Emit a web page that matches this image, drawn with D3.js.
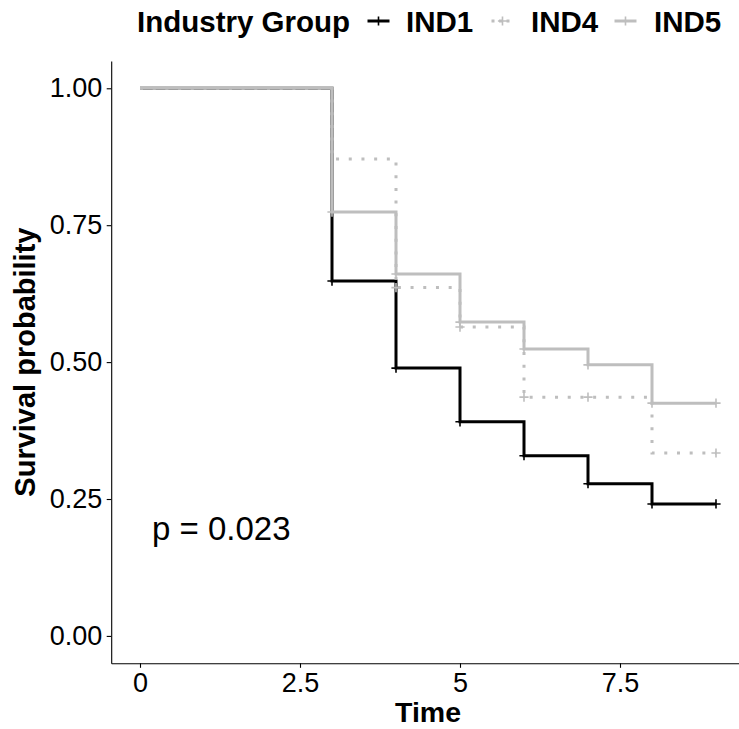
<!DOCTYPE html>
<html>
<head>
<meta charset="utf-8">
<script src="https://cdn.jsdelivr.net/npm/d3@7"></script>
<style>
  html, body { margin: 0; padding: 0; background: #fff; }
  svg { display: block; font-family: "Liberation Sans", Arial, Helvetica, sans-serif; }
</style>
</head>
<body>
<svg id="chart" width="739" height="729"></svg>
<script>
// Kaplan–Meier step estimates by industry group
const groups = ["IND1", "IND4", "IND5"];
const times = [0, 3, 4, 5, 6, 7, 8, 9];
const survIND1 = [1, 0.648, 0.489, 0.391, 0.329, 0.278, 0.241, 0.241];
const survIND4 = [1, 0.871, 0.636, 0.564, 0.436, 0.436, 0.334, 0.334];
const survIND5 = [1, 0.774, 0.661, 0.573, 0.524, 0.495, 0.425, 0.425];
// times at which censored observations occur
const censorIND1 = [3, 4, 5, 6, 7, 8, 9];
const censorIND4 = [4, 5, 6, 7, 9];
const censorIND5 = [3, 4, 5, 6, 7, 8, 9];
const xTicks = [0, 2.5, 5, 7.5];
const xTickLabels = ["0", "2.5", "5", "7.5"];
const yTicks = [0, 0.25, 0.5, 0.75, 1];
const yTickLabels = ["0.00", "0.25", "0.50", "0.75", "1.00"];
const pValueText = "p = 0.023";

const series = [
  { name: "IND1", surv: survIND1, censor: censorIND1, color: "#000000", dash: null },
  { name: "IND4", surv: survIND4, censor: censorIND4, color: "#BEBEBE", dash: "3 9.7" },
  { name: "IND5", surv: survIND5, censor: censorIND5, color: "#BEBEBE", dash: null }
];

const svg = d3.select("#chart");
const panel = { left: 111.2, right: 744.8, top: 60.9, bottom: 663.3 };

const x = d3.scaleLinear().domain([-0.45, 9.45]).range([panel.left, panel.right]);
const y = d3.scaleLinear().domain([-0.05, 1.05]).range([panel.bottom, panel.top]);

// survival curves
const line = d3.line()
  .x(d => x(d.t))
  .y(d => y(d.s))
  .curve(d3.curveStepAfter);

const cross = 4.6;
series.forEach(sr => {
  const pts = times.map((t, i) => ({ t, s: sr.surv[i] }));
  const g = svg.append("g");
  g.append("path")
    .datum(pts)
    .attr("d", line)
    .attr("fill", "none")
    .attr("stroke", sr.color)
    .attr("stroke-width", 3)
    .attr("stroke-dasharray", sr.dash)
    .attr("stroke-linecap", "butt");
  // censor marks
  const stepAt = t => sr.surv[d3.bisectRight(times, t) - 1];
  g.selectAll("path.censor")
    .data(sr.censor)
    .join("path")
    .attr("class", "censor")
    .attr("d", t => {
      const cx = x(t), cy = y(stepAt(t));
      return `M${cx - cross},${cy}H${cx + cross}M${cx},${cy - cross}V${cy + cross}`;
    })
    .attr("stroke", sr.color)
    .attr("stroke-width", 1.6)
    .attr("fill", "none");
});

// axes
const xAxis = d3.axisBottom(x)
  .tickValues(xTicks)
  .tickFormat((d, i) => xTickLabels[i])
  .tickSizeInner(4.5).tickSizeOuter(0).tickPadding(5);
const yAxis = d3.axisLeft(y)
  .tickValues(yTicks)
  .tickFormat((d, i) => yTickLabels[i])
  .tickSizeInner(4.5).tickSizeOuter(0).tickPadding(4.5);

const gx = svg.append("g").attr("transform", `translate(0,${panel.bottom})`).call(xAxis);
const gy = svg.append("g").attr("transform", `translate(${panel.left},0)`).call(yAxis);
[gx, gy].forEach(g => {
  g.select(".domain").attr("stroke", "#000").attr("stroke-width", 1.1);
  g.selectAll(".tick line").attr("stroke", "#000").attr("stroke-width", 1.1);
  g.selectAll(".tick text")
    .attr("fill", "#000")
    .attr("font-size", 27)
    .attr("font-family", "Liberation Sans, Arial, Helvetica, sans-serif");
});

// axis titles
svg.append("text")
  .attr("x", (panel.left + panel.right) / 2)
  .attr("y", 722)
  .attr("text-anchor", "middle")
  .attr("font-size", 28.5)
  .attr("font-weight", "bold")
  .text("Time");

svg.append("text")
  .attr("transform", `translate(35,${(panel.top + panel.bottom) / 2}) rotate(-90)`)
  .attr("text-anchor", "middle")
  .attr("font-size", 29)
  .attr("font-weight", "bold")
  .text("Survival probability");

// log-rank p-value
svg.append("text")
  .attr("x", 152)
  .attr("y", 540)
  .attr("font-size", 33)
  .text(pValueText);

// legend
const legend = svg.append("g");
legend.append("text")
  .attr("x", 137).attr("y", 32)
  .attr("font-size", 29.5).attr("font-weight", "bold")
  .text("Industry Group");

const keyCenters = [378.5, 502.5, 625.5];
const labelStarts = [406, 531, 654];
series.forEach((sr, i) => {
  const cx = keyCenters[i], cy = 21;
  legend.append("line")
    .attr("x1", cx - 11).attr("x2", cx + 11)
    .attr("y1", cy).attr("y2", cy)
    .attr("stroke", sr.color)
    .attr("stroke-width", 3)
    .attr("stroke-dasharray", sr.dash ? "3 4.5" : null);
  legend.append("path")
    .attr("d", `M${cx - cross},${cy}H${cx + cross}M${cx},${cy - cross}V${cy + cross}`)
    .attr("stroke", sr.color)
    .attr("stroke-width", 1.6)
    .attr("fill", "none");
  legend.append("text")
    .attr("x", labelStarts[i]).attr("y", 32)
    .attr("font-size", 29.5).attr("font-weight", "bold")
    .text(groups[i]);
});
</script>
</body>
</html>
